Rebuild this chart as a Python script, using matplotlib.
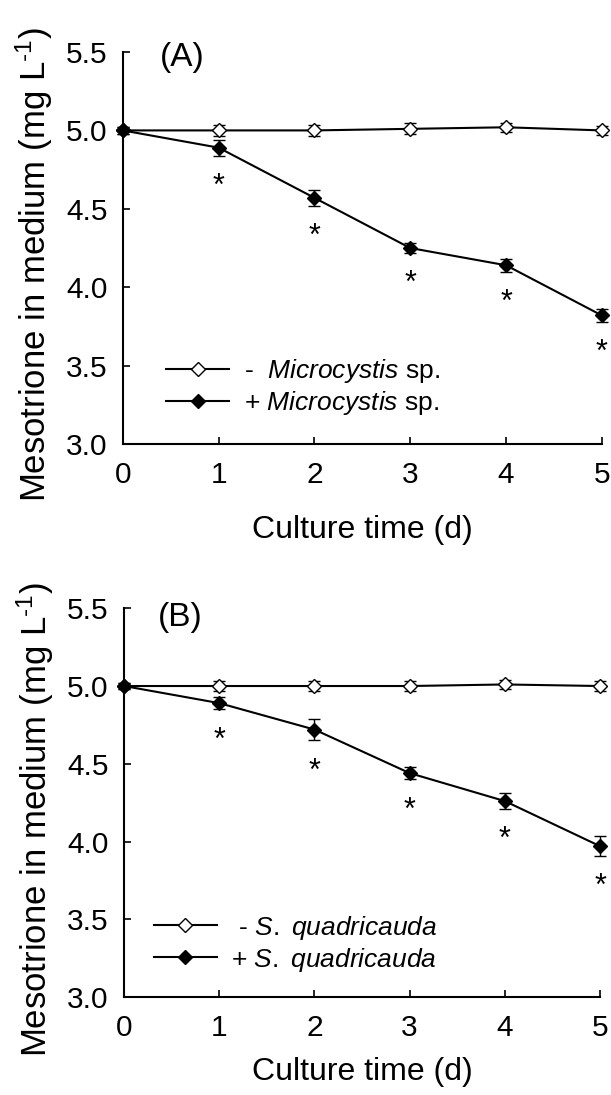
import matplotlib.pyplot as plt
from matplotlib.lines import Line2D

plt.rcParams['font.family'] = ['Liberation Sans', 'DejaVu Sans']
plt.rcParams['mathtext.fontset'] = 'custom'
plt.rcParams['mathtext.rm'] = 'Liberation Sans'
plt.rcParams['mathtext.it'] = 'Liberation Sans:italic'

days = [0, 1, 2, 3, 4, 5]

# panel A - Microcystis sp.
a_ctrl = [5.00, 5.00, 5.00, 5.01, 5.02, 5.00]
a_ctrl_err = [0.02, 0.035, 0.035, 0.035, 0.03, 0.03]
a_trt = [5.00, 4.89, 4.57, 4.25, 4.14, 3.82]
a_trt_err = [0.02, 0.05, 0.05, 0.03, 0.04, 0.04]

# panel B - S. quadricauda
b_ctrl = [5.00, 5.00, 5.00, 5.00, 5.01, 5.00]
b_ctrl_err = [0.02, 0.035, 0.035, 0.035, 0.03, 0.035]
b_trt = [5.00, 4.89, 4.72, 4.44, 4.26, 3.97]
b_trt_err = [0.02, 0.04, 0.07, 0.04, 0.05, 0.065]

panels = [
    ("(A)", a_ctrl, a_ctrl_err, a_trt, a_trt_err,
     r"-  $\mathit{Microcystis}$ sp.", r"+ $\mathit{Microcystis}$ sp.",
     [0.201, 0.5945, 0.784, 0.358], (0.077, 0.987), (0.09, 0.068), 19),
    ("(B)", b_ctrl, b_ctrl_err, b_trt, b_trt_err,
     r" - $\mathit{S.\ quadricauda}$", r"+ $\mathit{S.\ quadricauda}$",
     [0.203, 0.0895, 0.779, 0.355], (0.072, 0.977), (0.062, 0.06), 11),
]

fig = plt.figure(figsize=(6.11, 10.95), dpi=100)

for tag, ctrl, ctrl_err, trt, trt_err, lab1, lab2, pos, tagpos, legpos, xpad in panels:
    ax = fig.add_axes(pos)
    ax.errorbar(days, ctrl, yerr=ctrl_err, color='black', lw=1.5, marker='D',
                ms=7.5, mfc='white', mec='black', mew=1.0, capsize=4.5,
                elinewidth=1.0, capthick=1.0, clip_on=False, zorder=3)
    ax.errorbar(days, trt, yerr=trt_err, color='black', lw=1.5, marker='D',
                ms=7.5, mfc='black', mec='black', mew=1.0, capsize=4.5,
                elinewidth=1.0, capthick=1.0, clip_on=False, zorder=3)
    for d, v, e in zip(days[1:], trt[1:], trt_err[1:]):
        ax.text(d, v - e - 0.2, "*", ha='center', va='center', fontsize=22)
    ax.set_xlim(0, 5)
    ax.set_ylim(3.0, 5.5)
    ax.set_xticks(days)
    ax.set_yticks([3.0, 3.5, 4.0, 4.5, 5.0, 5.5])
    ax.set_yticklabels(["3.0", "3.5", "4.0", "4.5", "5.0", "5.5"])
    ax.spines['top'].set_visible(False)
    ax.spines['right'].set_visible(False)
    ax.spines['left'].set_linewidth(1.5)
    ax.spines['bottom'].set_linewidth(1.5)
    ax.tick_params(direction='in', length=5, width=1.2, labelsize=21.5)
    ax.tick_params(axis='y', pad=11)
    ax.tick_params(axis='x', pad=12)
    ax.set_xlabel("Culture time (d)", fontsize=23, labelpad=xpad)
    ax.set_ylabel(r"Mesotrione in medium (mg L$^{\text{-1}}$)", fontsize=25, labelpad=8)
    ax.yaxis.label.set_y(0.457)
    ax.text(tagpos[0], tagpos[1], tag, transform=ax.transAxes, fontsize=24,
            va='center', ha='left')
    handles = [
        Line2D([], [], color='black', lw=1.5, marker='D', ms=7, mfc='white', mec='black'),
        Line2D([], [], color='black', lw=1.5, marker='D', ms=7, mfc='black', mec='black'),
    ]
    ax.legend(handles, [lab1, lab2], loc='lower left', bbox_to_anchor=legpos,
              frameon=False, fontsize=19, handlelength=2.4, handletextpad=0.55,
              labelspacing=0.15, borderaxespad=0, borderpad=0)

fig.savefig("out.png", dpi=100)
